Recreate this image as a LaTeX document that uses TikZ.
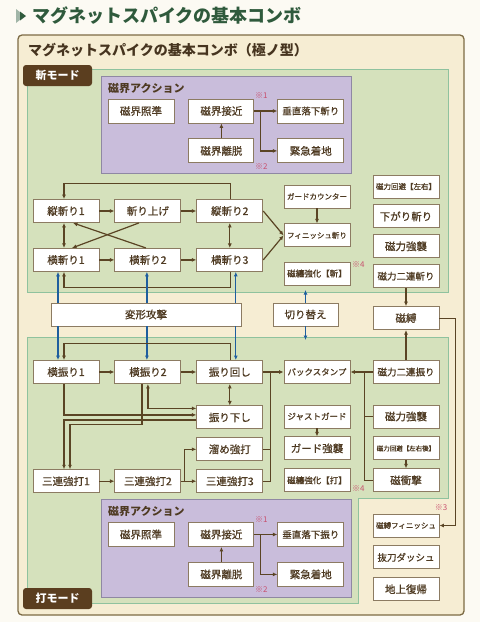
\documentclass[tikz,border=0pt]{standalone}
\usepackage{fontspec}
\newfontfamily\jp{Noto Sans CJK JP}
\newfontfamily\jpm[FakeBold=0.8]{Noto Sans CJK JP}
\usepackage{tikz}
\usetikzlibrary{positioning,arrows.meta}
\definecolor{pagebg}{HTML}{FCFAF3}
\definecolor{outerfill}{HTML}{F6EDD3}
\definecolor{outerline}{HTML}{7D6B45}
\definecolor{greenfill}{HTML}{D5E1BC}
\definecolor{greenline}{HTML}{8FC29E}
\definecolor{purplefill}{HTML}{C9BDDB}
\definecolor{purpleline}{HTML}{8F88A3}
\definecolor{boxline}{HTML}{8C7B62}
\definecolor{boxtext}{HTML}{4E3A22}
\definecolor{arrowbrown}{HTML}{5A4424}
\definecolor{modeblue}{HTML}{1E5E9E}
\definecolor{tabbrown}{HTML}{5B3E1F}
\definecolor{titlegreen}{HTML}{2F5A3C}
\definecolor{notered}{HTML}{C8506E}
\tikzset{
  combobox/.style={rectangle, draw=boxline, fill=white, line width=0.9pt, minimum width=66pt, minimum height=23pt,
                   inner sep=0pt, text=boxtext, font=\jpm\fontsize{10.5}{12}\selectfont},
  actionbox/.style={combobox, minimum height=24pt},
  sixchar/.style={font=\jpm\fontsize{9.5}{11}\selectfont},
  midtext/.style={font=\jpm\fontsize{8.5}{10}\selectfont},
  smalltext/.style={font=\jpm\fontsize{7.5}{9}\selectfont},
  tinytext/.style={font=\jpm\fontsize{6.5}{8}\selectfont},
  fwd/.style={-{Latex[length=4.5pt,width=4pt]}, line width=1.2pt, draw=arrowbrown},
  fwdboth/.style={{Latex[length=4.5pt,width=4pt]}-{Latex[length=4.5pt,width=4pt]}, line width=1.2pt, draw=arrowbrown},
  bus/.style={line width=1.2pt, draw=arrowbrown},
  modefwd/.style={-{Latex[length=4.5pt,width=4pt]}, line width=1.2pt, draw=modeblue},
  note/.style={text=notered, inner sep=0pt, font=\jp\fontsize{8}{9}\selectfont},
  modetab/.style={rectangle, rounded corners=3pt, fill=tabbrown, text=white, minimum width=69pt, minimum height=21pt,
                  inner sep=0pt, font=\jp\bfseries\fontsize{11}{12}\selectfont},
  heading/.style={anchor=west, inner sep=0pt, text=boxtext, font=\jp\bfseries\fontsize{11}{12}\selectfont},
  greenarea/.style={fill=greenfill, draw=greenline, line width=0.8pt},
  purplearea/.style={fill=purplefill, draw=purpleline, line width=0.8pt},
}
\begin{document}
\begin{tikzpicture}[x=1pt,y=-1pt]
  \useasboundingbox (0,0) rectangle (480,622);
  \fill[pagebg] (0,0) rectangle (480,622);

  % title
  \fill[titlegreen!45] (16,9) -- (25,16) -- (16,23) -- cycle;
  \fill[titlegreen] (20,11.5) -- (26,16) -- (20,20.5) -- cycle;
  \node[anchor=west, inner sep=0pt, text=titlegreen, font=\jp\bfseries\fontsize{18}{20}\selectfont] (title) at (32,16) {マグネットスパイクの基本コンボ};

  % frames
  \draw[fill=outerfill, draw=outerline, line width=1.3pt, rounded corners=4pt] (18,35) rectangle (464,615);
  \node[anchor=west, inner sep=0pt, text=boxtext!90!black, font=\jp\bfseries\fontsize{14}{16}\selectfont] (subtitle) at (28,50) {マグネットスパイクの基本コンボ（極ノ型）};
  \draw[greenarea] (27,69) rectangle (448,292);
  \draw[greenarea] (27,337) -- (448,337) -- (448,498) -- (358,498) -- (358,603) -- (27,603) -- cycle;
  \draw[purplearea] (101,76) rectangle (351,173);
  \draw[purplearea] (101,499) rectangle (351,597);
  \node[modetab] (zantab) at (57.5,75.5) {斬モード};
  \node[modetab] (datab) at (57.5,598.5) {打モード};

  % zan mode
  \node[heading] (actionA) at (108,88) {磁界アクション};
  \node[actionbox] (shoujunA) at (141,111) {磁界照準};
  \node[actionbox, minimum width=65pt, right=14pt of shoujunA] (sekkinA) {磁界接近};
  \node[actionbox, sixchar, right=23pt of sekkinA] (suichokuA) {垂直落下斬り};
  \node[actionbox, minimum width=65pt, below=15pt of sekkinA] (ridatsuA) {磁界離脱};
  \node[actionbox, below=15pt of suichokuA] (kinkyuA) {緊急着地};
  \node[note] (noteA1) at ([xshift=7pt,yshift=3pt]sekkinA.north east) {※1};
  \node[note] (noteA2) at ([xshift=7pt,yshift=-3pt]ridatsuA.south east) {※2};

  \node[combobox] (tate1) at (66,211) {縦斬り1};
  \node[combobox, right=15pt of tate1] (kiriage) {斬り上げ};
  \node[combobox, right=15pt of kiriage] (tate2) {縦斬り2};
  \node[combobox, below=25pt of tate1] (yoko1) {横斬り1};
  \node[combobox, right=15pt of yoko1] (yoko2) {横斬り2};
  \node[combobox, right=15pt of yoko2] (yoko3) {横斬り3};
  \node[combobox, smalltext] (gcounter) at (317,196.5) {ガードカウンター};
  \node[combobox, smalltext, below=15pt of gcounter] (finish) {フィニッシュ斬り};
  \node[combobox, midtext] (jitenzan) at (317,273.5) {磁纏強化【斬】};
  \node[note] (noteA4) at ([xshift=8pt,yshift=-3pt]jitenzan.north east) {※4};
  \node[combobox, smalltext] (kaihilr) at (406,186.5) {磁力回避【左右】};
  \node[combobox, below=6pt of kaihilr] (sagari) {下がり斬り};
  \node[combobox, below=6pt of sagari] (kyoshuzan) {磁力強襲};
  \node[combobox, sixchar, below=6pt of kyoshuzan] (nirenzan) {磁力二連斬り};

  % switch row
  \node[combobox, minimum width=190pt] (henkei) at (146,314.5) {変形攻撃};
  \node[combobox, minimum width=65pt] (kirikae) at (305.5,314.5) {切り替え};
  \node[combobox, below=18pt of nirenzan] (jibaku) {磁縛};
  \coordinate (zanedge) at (305.5,290);
  \coordinate (daedge) at (305.5,340);

  % da mode
  \node[combobox] (furi1) at (66,372) {横振り1};
  \node[combobox, right=15pt of furi1] (furi2) {横振り2};
  \node[combobox, right=15pt of furi2] (mawashi) {振り回し};
  \node[combobox, below=21.5pt of mawashi] (oroshi) {振り下し};
  \node[combobox, below=8pt of oroshi] (tame) {溜め強打};
  \node[combobox, below=8pt of tame] (renda3) {三連強打3};
  \node[combobox, left=15pt of renda3] (renda2) {三連強打2};
  \node[combobox, left=15pt of renda2] (renda1) {三連強打1};
  \node[combobox, midtext] (backstamp) at (317,372) {バックスタンプ};
  \node[combobox, midtext] (justguard) at (317,416.5) {ジャストガード};
  \node[combobox, below=8pt of justguard] (guardkyoshu) {ガード強襲};
  \node[combobox, midtext, below=8pt of guardkyoshu] (jitenda) {磁纏強化【打】};
  \node[note] (noteB4) at ([xshift=8pt,yshift=-8pt]jitenda.east) {※4};
  \node[combobox, sixchar] (nirenfuri) at (406,372) {磁力二連振り};
  \node[combobox] (kyoshuda) at (406,416.5) {磁力強襲};
  \node[combobox, tinytext, below=8pt of kyoshuda] (kaihilrb) {磁力回避【左右後】};
  \node[combobox, below=8pt of kaihilrb] (shogeki) {磁衝撃};
  \node[combobox, smalltext] (jibakufin) at (406,525.5) {磁縛フィニッシュ};
  \node[note, anchor=south east] (note3) at ([xshift=8pt,yshift=3pt]jibakufin.north east) {※3};
  \node[combobox, sixchar, below=8pt of jibakufin] (battou) {抜刀ダッシュ};
  \node[combobox, below=8pt of battou] (chijou) {地上復帰};

  \node[heading] (actionB) at (108,511) {磁界アクション};
  \node[actionbox] (shoujunB) at (141,534.5) {磁界照準};
  \node[actionbox, minimum width=65pt, right=14pt of shoujunB] (sekkinB) {磁界接近};
  \node[actionbox, sixchar, right=23pt of sekkinB] (suichokuB) {垂直落下振り};
  \node[actionbox, minimum width=65pt, below=15pt of sekkinB] (ridatsuB) {磁界離脱};
  \node[actionbox, below=15pt of suichokuB] (kinkyuB) {緊急着地};
  \node[note] (noteB1) at ([xshift=7pt,yshift=3pt]sekkinB.north east) {※1};
  \node[note] (noteB2) at ([xshift=7pt,yshift=-3pt]ridatsuB.south east) {※2};

  % zan mode arrows
  \draw[fwd] (ridatsuA) -- (sekkinA);
  \draw[fwd] (sekkinA) -- (suichokuA);
  \draw[fwd] (sekkinA.east) -- ++(6,0) |- (kinkyuA.west);
  \draw[fwd] (tate1) -- (kiriage);
  \draw[fwd] (kiriage) -- (tate2);
  \draw[fwd] (yoko1) -- (yoko2);
  \draw[fwd] (yoko2) -- (yoko3);
  \draw[fwdboth] ([xshift=-2pt]tate1.south) -- ([xshift=-2pt]yoko1.north);
  \draw[fwdboth] (tate2) -- (yoko3);
  \draw[fwd] ([xshift=-9pt]kiriage.south) -- ([xshift=6pt]yoko1.north);
  \draw[fwd] ([xshift=-2pt]yoko2.north) -- ([xshift=7pt]tate1.south);
  \draw[fwd] ([xshift=1pt]tate2.north) -- ++(0,-15.5) -| ([xshift=-2pt]tate1.north);
  \draw[fwd] ([xshift=1pt]yoko3.south) -- ++(0,16) -| ([xshift=-2pt]yoko1.south);
  \draw[fwd] (tate2.east) -- (finish.west);
  \draw[fwd] (yoko3.east) -- (finish.west);
  \draw[fwd] (gcounter) -- (finish);
  \draw[fwd] (nirenzan) -- (jibaku);
  \draw[fwd] (jibaku.east) -- ++(16,0) |- (jibakufin.east);

  % mode change arrows
  \draw[modefwd] ([xshift=-8pt]yoko1.south |- henkei.north) -- ([xshift=-8pt]yoko1.south);
  \draw[modefwd] ([xshift=-1pt]yoko2.south |- henkei.north) -- ([xshift=-1pt]yoko2.south);
  \draw[modefwd] ([xshift=6pt]yoko3.south |- henkei.north) -- ([xshift=6pt]yoko3.south);
  \draw[modefwd] ([xshift=-8pt]furi1.north |- henkei.south) -- ([xshift=-8pt]furi1.north);
  \draw[modefwd] ([xshift=-1pt]furi2.north |- henkei.south) -- ([xshift=-1pt]furi2.north);
  \draw[modefwd] ([xshift=6pt]mawashi.north |- henkei.south) -- ([xshift=6pt]mawashi.north);
  \draw[modefwd] (kirikae.north) -- (zanedge);
  \draw[modefwd] (kirikae.south) -- (daedge);

  % da mode arrows
  \draw[fwd] (furi1) -- (furi2);
  \draw[fwd] (furi2) -- (mawashi);
  \draw[fwd] ([xshift=1pt]mawashi.north) -- ++(0,-16.5) -| ([xshift=-2pt]furi1.north);
  \draw[fwdboth] (mawashi) -- (oroshi);
  \draw[fwd] ([xshift=-2pt]furi1.south) |- ([yshift=2.5pt]oroshi.west);
  \draw[fwd] ([yshift=-2.5pt]oroshi.west) -| ([xshift=-2pt]renda1.north);
  \draw[fwd] ([xshift=-6pt]furi2.south) -- ++(0,40.5) -| ([xshift=4pt]renda1.north);
  \draw[fwdboth] (furi2.south) |- ([yshift=9pt]oroshi.west);
  \draw[fwd] (renda1) -- (renda2);
  \draw[fwd] (renda2) -- (renda3);
  \draw[fwd] (renda2.east) -- ++(3,0) |- (tame.west);
  \draw[fwd] (mawashi.east) -- (backstamp.west);
  \draw[bus] (renda3.east) -- ++(7,0) |- (mawashi.east);
  \draw[bus] (tame.east) -- ++(7,0);
  \draw[fwd] (nirenfuri.west) -- (backstamp.east);
  \draw[bus] (shogeki.west) -- ++(-8,0) |- (nirenfuri.west);
  \draw[bus] (kyoshuda.west) -- ++(-8,0);
  \draw[fwd] (justguard) -- (guardkyoshu);
  \draw[fwd] (kaihilrb) -- (shogeki);
  \draw[fwd] (nirenfuri) -- (jibaku);
  \draw[fwd] (ridatsuB) -- (sekkinB);
  \draw[fwd] (sekkinB) -- (suichokuB);
  \draw[fwd] (sekkinB.east) -- ++(6,0) |- (kinkyuB.west);
\end{tikzpicture}
\end{document}
